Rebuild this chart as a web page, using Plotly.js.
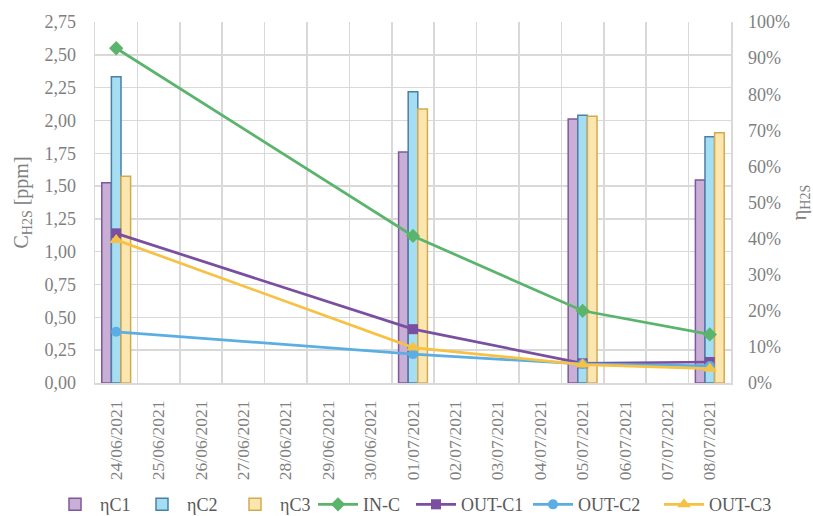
<!DOCTYPE html>
<html>
<head>
<meta charset="utf-8">
<script src="https://cdn.plot.ly/plotly-3.0.1.min.js"></script>
<style>
  html, body { margin: 0; padding: 0; background: #fff; }
  #grafico { width: 813px; height: 516px; }
</style>
</head>
<body>
<div id="grafico"></div>
<script>
// all days shown on the axis
var dias = ["24/06/2021", "25/06/2021", "26/06/2021", "27/06/2021", "28/06/2021",
            "29/06/2021", "30/06/2021", "01/07/2021", "02/07/2021", "03/07/2021",
            "04/07/2021", "05/07/2021", "06/07/2021", "07/07/2021", "08/07/2021"];
// sampling days
var fechas = ["24/06/2021", "01/07/2021", "05/07/2021", "08/07/2021"];

// efficiency (fraction)
var etaC1 = [0.555, 0.64, 0.731, 0.562];
var etaC2 = [0.848, 0.807, 0.742, 0.682];
var etaC3 = [0.573, 0.759, 0.739, 0.693];

// concentration H2S [ppm]
var inC = [2.55, 1.12, 0.55, 0.37];
var outC1 = [1.14, 0.41, 0.15, 0.16];
var outC2 = [0.39, 0.22, 0.145, 0.13];
var outC3 = [1.09, 0.27, 0.14, 0.11];

// legend slots (left edge of each entry, px)
var posLeyenda = [50, 137, 230, 313, 411, 528, 659];

var gris = "#808080";
var fuente = "Liberation Serif";

function barra(nombre, valores, relleno, borde) {
  return {
    x: fechas, y: valores, name: nombre, type: "bar", yaxis: "y",
    marker: { color: relleno, line: { color: borde, width: 1.5 } }
  };
}

function linea(nombre, valores, color, simbolo, tam) {
  return {
    x: fechas, y: valores, name: nombre, type: "scatter", mode: "lines+markers",
    yaxis: "y2",
    line: { color: color, width: 2.75 },
    marker: { color: color, symbol: simbolo, size: tam }
  };
}

var data = [
  barra("ηC1", etaC1, "#C9AED5", "#7E57A0"),
  barra("ηC2", etaC2, "#A5DDF2", "#4A7FA8"),
  barra("ηC3", etaC3, "#FCE6B0", "#D4AA4E"),
  linea("IN-C", inC, "#5AB46C", "diamond", 11),
  linea("OUT-C1", outC1, "#7A4F9F", "square", 10),
  linea("OUT-C2", outC2, "#5BAEE3", "circle", 10),
  linea("OUT-C3", outC3, "#F7C244", "triangle-up", 12)
];

var layout = {
  width: 813, height: 516,
  margin: { l: 95, r: 82, t: 22, b: 133 },
  paper_bgcolor: "#fff", plot_bgcolor: "#fff",
  separators: ",.",
  font: { family: fuente, color: gris, size: 18 },
  barmode: "group", bargap: 0.32, bargroupgap: 0,
  showlegend: true,
  xaxis: {
    type: "category", categoryorder: "array", categoryarray: dias,
    range: [-0.5, 14.5], automargin: false,
    tickangle: -90, tickson: "boundaries", ticks: "", ticklabelstandoff: 9,
    showgrid: true, gridcolor: "#d9d9d9", gridwidth: 1.5,
    showline: true, linecolor: "#d9d9d9", linewidth: 1.5,
    tickfont: { family: fuente, size: 17.5, color: gris }
  },
  yaxis: {
    side: "right", range: [0, 1], dtick: 0.1, tickformat: ".0%", automargin: false,
    showgrid: false, zeroline: false, ticks: "", ticklabelstandoff: 12,
    showline: true, linecolor: "#d9d9d9", linewidth: 1.5,
    title: { text: "η<sub>H2S</sub>", font: { family: fuente, size: 20, color: gris }, standoff: 14 },
    tickfont: { family: fuente, size: 18, color: gris }
  },
  yaxis2: {
    side: "left", overlaying: "y", range: [0, 2.75], dtick: 0.25, tickformat: ".2f",
    automargin: false, ticklabelstandoff: 14,
    showgrid: true, gridcolor: "#d9d9d9", gridwidth: 1.5, zeroline: false, ticks: "",
    showline: true, linecolor: "#d9d9d9", linewidth: 1.5,
    title: { text: "C<sub>H2S</sub> [ppm]", font: { family: fuente, size: 20, color: gris }, standoff: 10 },
    tickfont: { family: fuente, size: 18, color: gris }
  }
};

// one legend per entry so each sits where the reference has it
data.forEach(function (t, i) {
  var nombreLeyenda = i === 0 ? "legend" : "legend" + (i + 1);
  if (i > 0) t.legend = nombreLeyenda;
  layout[nombreLeyenda] = {
    orientation: "h", xref: "container", yref: "container",
    x: posLeyenda[i] / 813, xanchor: "left", y: 0.022, yanchor: "middle",
    font: { family: fuente, size: 18, color: "#595959" },
    itemwidth: 40, bgcolor: "rgba(0,0,0,0)"
  };
});

Plotly.newPlot("grafico", data, layout, { displayModeBar: false, staticPlot: true });
</script>
</body>
</html>
